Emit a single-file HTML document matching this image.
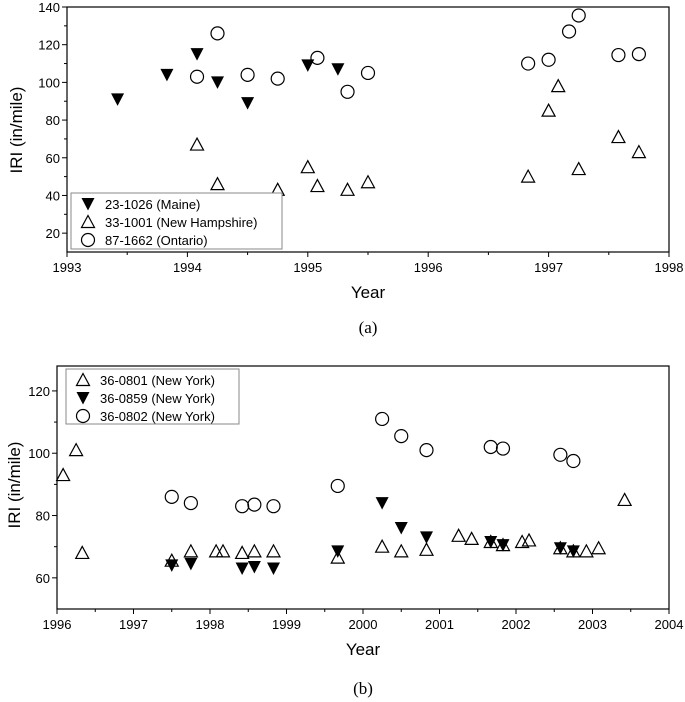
<!DOCTYPE html>
<html><head><meta charset="utf-8"><style>
body{margin:0;background:#fff}
svg{display:block;font-family:"Liberation Sans",Arial,sans-serif}
</style></head><body>
<svg id="s" width="685" height="702"></svg>
<script>
// Chart (a)
const aMaineX=[1993.42,1993.83,1994.08,1994.25,1994.5,1995.0,1995.25];
const aMaineY=[91,104,115,100,89,109,107];
const aNHX=[1994.08,1994.25,1994.75,1995.0,1995.08,1995.33,1995.5,1996.83,1997.0,1997.08,1997.25,1997.58,1997.75];
const aNHY=[67,46,43,55,45,43,47,50,85,98,54,71,63];
const aOnX=[1994.08,1994.25,1994.5,1994.75,1995.08,1995.33,1995.5,1996.83,1997.0,1997.17,1997.25,1997.58,1997.75];
const aOnY=[103,126,104,102,113,95,105,110,112,127,135.5,114.5,115];
const aXTicks=[1993,1994,1995,1996,1997,1998];
const aYTicks=[20,40,60,80,100,120,140];
// Chart (b)
const b0801X=[1996.08,1996.25,1996.33,1997.5,1997.75,1998.08,1998.17,1998.42,1998.58,1998.83,1999.67,2000.25,2000.5,2000.83,2001.25,2001.42,2001.67,2001.83,2002.08,2002.17,2002.58,2002.75,2002.92,2003.08,2003.42];
const b0801Y=[93,101,68,65.5,68.5,68.5,68.5,68,68.5,68.5,66.5,70,68.5,69,73.5,72.5,71.5,70.5,71.5,72,69.5,68.5,68.5,69.5,85];
const b0859X=[1997.5,1997.75,1998.42,1998.58,1998.83,1999.67,2000.25,2000.5,2000.83,2001.67,2001.83,2002.58,2002.75];
const b0859Y=[64,64.5,63,63.5,63,68.5,84,76,73,71.5,70.5,69.5,68.5];
const b0802X=[1997.5,1997.75,1998.42,1998.58,1998.83,1999.67,2000.25,2000.5,2000.83,2001.67,2001.83,2002.58,2002.75];
const b0802Y=[86,84,83,83.5,83,89.5,111,105.5,101,102,101.5,99.5,97.5];
const bXTicks=[1996,1997,1998,1999,2000,2001,2002,2003,2004];
const bYTicks=[60,80,100,120];

const NS="http://www.w3.org/2000/svg";
const svg=document.getElementById('s');
function el(t,a,p){const e=document.createElementNS(NS,t);for(const k in a)e.setAttribute(k,a[k]);(p||svg).appendChild(e);return e;}
function txt(x,y,s,size,anchor,fam,p){const e=el('text',{x:x,y:y,'font-size':size,'text-anchor':anchor||'middle','fill':'#000'},p);if(fam)e.setAttribute('font-family',fam);e.textContent=s;return e;}
function marker(g,kind,x,y){let e;
 if(kind==='down'){e=el('path',{d:`M${x-6.5},${y-6} L${x+6.5},${y-6} L${x},${y+6.5} Z`,fill:'#000'},g);}
 else if(kind==='up'){e=el('path',{d:`M${x},${y-6.5} L${x+6.5},${y+5.5} L${x-6.5},${y+5.5} Z`,fill:'none',stroke:'#000','stroke-width':1.2},g);}
 else {e=el('circle',{cx:x,cy:y,r:6.5,fill:'none',stroke:'#000','stroke-width':1.2},g);}
 return e;}

function chart(o){
 const g=el('g',{});
 
 
 const sx=v=>o.x0+(v-o.xmin)/(o.xmax-o.xmin)*(o.x1-o.x0);
 const sy=v=>o.y1-(v-o.ymin)/(o.ymax-o.ymin)*(o.y1-o.y0);
 const box=el('rect',{x:o.x0,y:o.y0,width:o.x1-o.x0,height:o.y1-o.y0,fill:'none',stroke:'#000','stroke-width':1.2},g);
 
 
 o.xt.forEach((t,i)=>{const x=sx(t);el('line',{x1:x,x2:x,y1:o.y1,y2:o.y1+5,stroke:'#000'},g);
  if(i<o.xt.length-1){const xm=sx(t+0.5);el('line',{x1:xm,x2:xm,y1:o.y1,y2:o.y1+3,stroke:'#000'},g);}
  const l=txt(x,o.y1+20,String(t),13,'middle',null,g);
  
  });
 o.yt.forEach(t=>{const y=sy(t);el('line',{x1:o.x0-5,x2:o.x0,y1:y,y2:y,stroke:'#000'},g);
  const ym=sy(t-10);if(t-10>o.ymin)el('line',{x1:o.x0-3,x2:o.x0,y1:ym,y2:ym,stroke:'#000'},g);
  const l=txt(o.x0-7,y+5,String(t),13,'end',null,g);
  
  });
 const xl=txt((o.x0+o.x1)/2,o.y1+46,'Year',17,'middle',null,g);
 
 
 const yl=txt(0,0,'IRI (in/mile)',17,'middle',null,g);
 yl.setAttribute('transform',`translate(${o.ylx},${o.ylY}) rotate(-90)`);
 
 
 o.series.forEach(s=>{const sg=el('g',{},g);
  
  
  s.x.forEach((v,i)=>{const m=marker(sg,s.kind,sx(v),sy(s.y[i]));
   
   });});
 const lg=el('g',{},g);
 
 
 el('rect',{x:o.lg.x,y:o.lg.y,width:o.lg.w,height:o.lg.h,fill:'#fff',stroke:'#888'},lg);
 o.series.forEach((s,i)=>{const y=o.lg.y+11+i*18;
  marker(lg,s.kind,o.lg.x+17,y);
  const t=txt(o.lg.x+34,y+5,s.label,13,'start',null,lg);
  
  });
 const cap=txt((o.x0+o.x1)/2,o.capY,o.cap,17,'middle','"Liberation Serif",serif',g);
 
 
}

chart({name:'chart-a',x0:67,x1:669,y0:7,y1:252,xmin:1993,xmax:1998,ymin:10,ymax:140,xt:aXTicks,yt:aYTicks,ylx:22,ylY:130,capY:333,cap:'(a)',
 lg:{x:71,y:193,w:211,h:56},
 series:[{name:'series-maine',kind:'down',x:aMaineX,y:aMaineY,label:'23-1026 (Maine)'},
 {name:'series-new-hampshire',kind:'up',x:aNHX,y:aNHY,label:'33-1001 (New Hampshire)'},
 {name:'series-ontario',kind:'circ',x:aOnX,y:aOnY,label:'87-1662 (Ontario)'}]});

chart({name:'chart-b',x0:57,x1:669,y0:366,y1:609,xmin:1996,xmax:2004,ymin:50,ymax:128,xt:bXTicks,yt:bYTicks,ylx:20,ylY:485,capY:694,cap:'(b)',
 lg:{x:66,y:369,w:173,h:55},
 series:[{name:'series-36-0801',kind:'up',x:b0801X,y:b0801Y,label:'36-0801 (New York)'},
 {name:'series-36-0859',kind:'down',x:b0859X,y:b0859Y,label:'36-0859 (New York)'},
 {name:'series-36-0802',kind:'circ',x:b0802X,y:b0802Y,label:'36-0802 (New York)'}]});
</script>
</body></html>
